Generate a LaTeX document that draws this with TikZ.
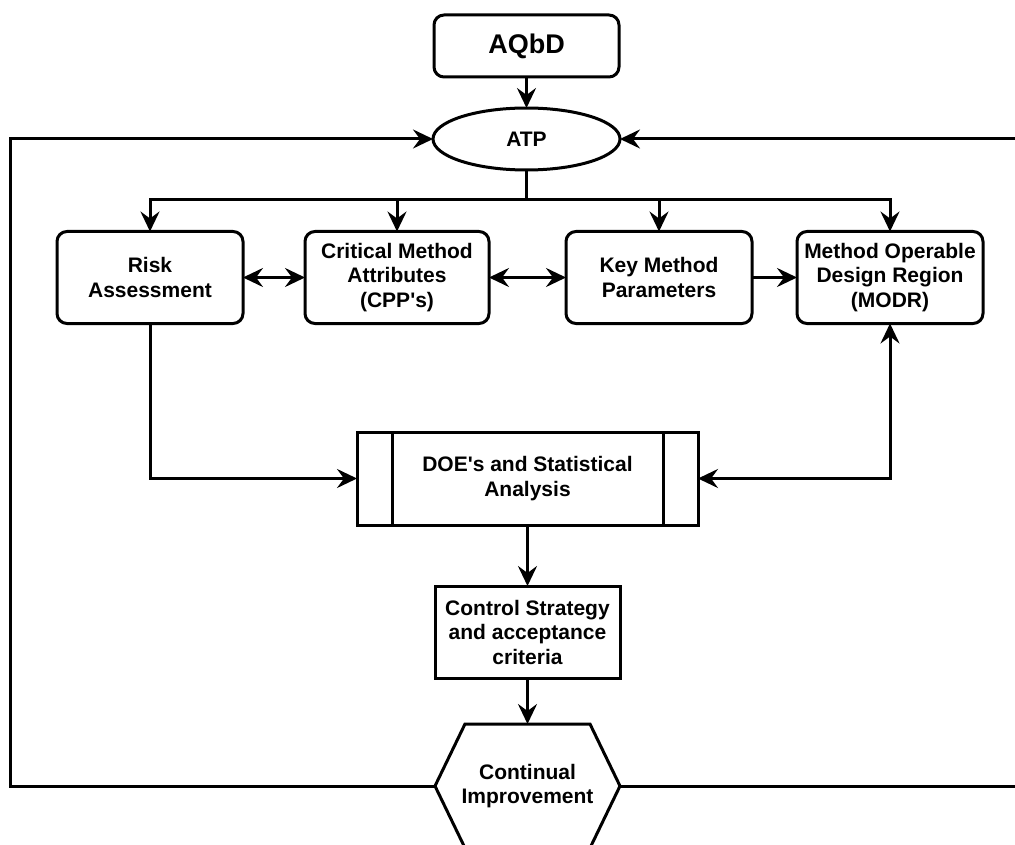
\documentclass[tikz,border=0pt]{standalone}
\usepackage{fontspec}
\setmainfont{Liberation Sans}
\usetikzlibrary{arrows.meta,shapes.geometric}

\begin{document}
\begin{tikzpicture}[x=1pt,y=-1pt]
  \tikzset{BoxStyle/.style = {
    shape           = rectangle,
    rounded corners = 10pt,
    draw            = black,
    fill            = white,
    line width      = 3pt,
    text            = black,
    align           = center,
    font            = \bfseries\fontsize{21}{24.5}\selectfont,
    inner sep       = 0pt,
    outer sep       = 0pt,
    minimum width   = 186pt,
    minimum height  = 92pt
    }
  }
  \tikzset{SharpBoxStyle/.style = {
    BoxStyle,
    sharp corners
    }
  }
  \tikzset{EllipseStyle/.style = {
    BoxStyle,
    shape           = ellipse,
    minimum width   = 187pt,
    minimum height  = 62pt
    }
  }
  \tikzset{HexLabelStyle/.style = {
    shape           = rectangle,
    align           = center,
    text            = black,
    font            = \bfseries\fontsize{21}{24.5}\selectfont,
    inner sep       = 0pt,
    outer sep       = 0pt,
    minimum width   = 185pt,
    minimum height  = 124pt
    }
  }
  \tikzset{LineStyle/.style = {
    draw            = black,
    line width      = 3pt,
    line join       = miter
    }
  }
  \tikzset{EdgeStyle/.style = {
    LineStyle,
    -{Stealth[length=20pt,width=19pt,inset=7pt]}
    }
  }
  \tikzset{EdgeStyleBoth/.style = {
    LineStyle,
    {Stealth[length=20pt,width=19pt,inset=7pt]}-{Stealth[length=20pt,width=19pt,inset=7pt]}
    }
  }

  \useasboundingbox (0,0) rectangle (1015,845);
  \clip (0,0) rectangle (1015,845);
  \fill[white] (0,0) rectangle (1015,845);

  \node[BoxStyle, minimum width=185pt, minimum height=62pt,
        font=\bfseries\fontsize{27}{30}\selectfont](AQBD) at (526.5, 46) {AQbD};
  \node[EllipseStyle](ATP) at (526.5, 139) {ATP};
  \node[BoxStyle](RA) at (150, 277.5) {Risk\\Assessment};
  \node[BoxStyle, minimum width=184pt](CMA) at (397, 277.5) {Critical Method\\Attributes\\(CPP\textquotesingle s)};
  \node[BoxStyle](KMP) at (659, 277.5) {Key Method\\Parameters};
  \node[BoxStyle](MODR) at (890, 277.5) {Method Operable\\Design Region\\(MODR)};
  \node[SharpBoxStyle, minimum width=341pt, minimum height=93pt](DOE) at (527.5, 478.5) {DOE\textquotesingle s and Statistical\\Analysis};
  \node[SharpBoxStyle, minimum width=185pt](CS) at (527.5, 632) {Control Strategy\\and acceptance\\criteria};
  \node[HexLabelStyle](CI) at (527.5, 786) {Continual\\Improvement};

  \draw[LineStyle] ([xshift=35pt]DOE.north west) -- ([xshift=35pt]DOE.south west);
  \draw[LineStyle] ([xshift=-35pt]DOE.north east) -- ([xshift=-35pt]DOE.south east);
  \draw[LineStyle] ([xshift=30pt]CI.north west) -- ([xshift=-30pt]CI.north east) -- (CI.east)
    -- ([xshift=-30pt]CI.south east) -- ([xshift=30pt]CI.south west) -- (CI.west) -- cycle;

  \coordinate (Bus) at (526.5, 200);
  \coordinate (LeftTurn) at (10, 786);
  \coordinate (RightTurn) at (1030, 786);

  \draw[EdgeStyle](AQBD) to (ATP);
  \draw[LineStyle](ATP.south) -- (Bus);
  \draw[EdgeStyle](Bus) -| (RA.north);
  \draw[EdgeStyle](Bus) -| (CMA.north);
  \draw[EdgeStyle](Bus) -| (KMP.north);
  \draw[EdgeStyle](Bus) -| (MODR.north);
  \draw[EdgeStyleBoth](RA) to (CMA);
  \draw[EdgeStyleBoth](CMA) to (KMP);
  \draw[EdgeStyle](KMP) to (MODR);
  \draw[EdgeStyle](RA.south) |- (DOE.west);
  \draw[EdgeStyleBoth](DOE.east) -| (MODR.south);
  \draw[EdgeStyle](DOE) to (CS);
  \draw[EdgeStyle](CS) to (CI.north);
  \draw[EdgeStyle](CI.west) -- (LeftTurn) |- (ATP.west);
  \draw[EdgeStyle](CI.east) -- (RightTurn) |- (ATP.east);

\end{tikzpicture}
\end{document}
